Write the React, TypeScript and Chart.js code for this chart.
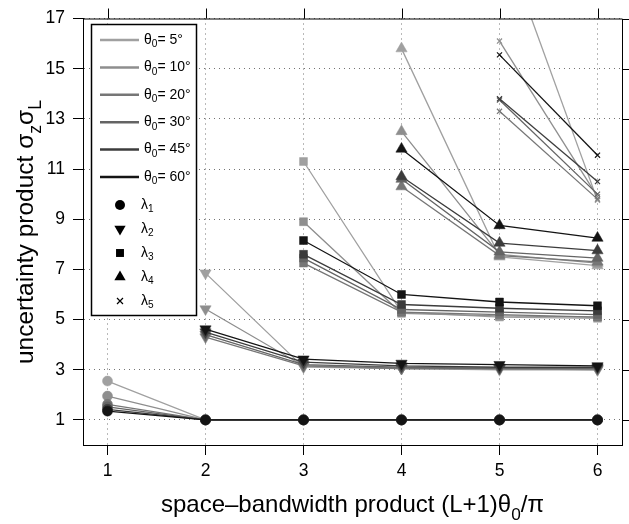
import React, { useEffect, useRef } from "react";
import { Chart, registerables } from "chart.js";

Chart.register(...registerables);

// Beam half-widths and their gray levels (lighter = narrower)
const thetaLabels = ["5°", "10°", "20°", "30°", "45°", "60°"];
const thetaColors = ["#a0a0a0", "#8e8e8e", "#767676", "#646464", "#3c3c3c", "#141414"];

// Space-bandwidth products at which each eigenvalue index starts
const xLambda1 = [1, 2, 3, 4, 5, 6];
const xLambda2 = [2, 3, 4, 5, 6];
const xLambda3 = [3, 4, 5, 6];
const xLambda4 = [4, 5, 6];
const xLambda5 = [5, 6];

// Uncertainty products, one row per beam width (5°, 10°, 20°, 30°, 45°, 60°)
const lambda1 = [
  [2.55, 1.0, 1.0, 1.0, 1.0, 1.0],
  [1.95, 1.0, 1.0, 1.0, 1.0, 1.0],
  [1.62, 1.0, 1.0, 1.0, 1.0, 1.0],
  [1.52, 1.0, 1.0, 1.0, 1.0, 1.0],
  [1.42, 1.0, 1.0, 1.0, 1.0, 1.0],
  [1.35, 1.0, 1.0, 1.0, 1.0, 1.0],
];
const lambda2 = [
  [6.85, 3.1, 3.05, 3.0, 3.0],
  [5.42, 3.15, 3.05, 3.05, 3.0],
  [4.3, 3.15, 3.05, 3.05, 3.05],
  [4.4, 3.2, 3.1, 3.05, 3.05],
  [4.5, 3.3, 3.15, 3.1, 3.1],
  [4.62, 3.42, 3.25, 3.2, 3.15],
];
const lambda3 = [
  [11.3, 5.3, 5.1, 5.05],
  [8.9, 5.25, 5.15, 5.1],
  [7.25, 5.3, 5.2, 5.1],
  [7.45, 5.4, 5.3, 5.2],
  [7.6, 5.6, 5.45, 5.35],
  [8.15, 6.0, 5.7, 5.55],
];
const lambda4 = [
  [15.8, 7.5, 7.15],
  [12.5, 7.6, 7.25],
  [10.3, 7.55, 7.3],
  [10.6, 7.7, 7.45],
  [10.7, 8.05, 7.75],
  [11.8, 8.75, 8.25],
];
const lambda5 = [
  [20.5, 9.75],
  [16.1, 9.9],
  [13.3, 9.8],
  [13.75, 10.0],
  [13.8, 10.5],
  [15.55, 11.55],
];

const xTicks = [1, 2, 3, 4, 5, 6];
const yTicks = [1, 3, 5, 7, 9, 11, 13, 15, 17];

const FONT = "'Liberation Sans', Arial, Helvetica, sans-serif";

type Run = { t: string; sub?: boolean };

// Draw a run of text where some pieces are subscripts; returns total width
function drawRich(
  ctx: CanvasRenderingContext2D,
  runs: Run[],
  x: number,
  y: number,
  size: number,
  measureOnly = false
): number {
  let cx = x;
  for (const r of runs) {
    const s = r.sub ? size * 0.72 : size;
    ctx.font = `${s}px ${FONT}`;
    const w = ctx.measureText(r.t).width;
    if (!measureOnly) ctx.fillText(r.t, cx, y + (r.sub ? size * 0.33 : 0));
    cx += w;
  }
  return cx - x;
}

const markerDefs = [
  { style: "circle", radius: 5, rotation: 0 },
  { style: "triangle", radius: 6.5, rotation: 180 },
  { style: "rect", radius: 5.6, rotation: 0 },
  { style: "triangle", radius: 6.5, rotation: 0 },
  { style: "crossRot", radius: 3.6, rotation: 0 },
];

function drawMarker(
  ctx: CanvasRenderingContext2D,
  style: string,
  r: number,
  rot: number,
  x: number,
  y: number
) {
  ctx.beginPath();
  if (style === "circle") {
    ctx.arc(x, y, r, 0, Math.PI * 2);
    ctx.fill();
  } else if (style === "rect") {
    const s = r * Math.SQRT1_2;
    ctx.fillRect(x - s, y - s, 2 * s, 2 * s);
  } else if (style === "triangle") {
    let rad = (rot * Math.PI) / 180;
    for (let k = 0; k < 3; k++) {
      const px = x + Math.sin(rad) * r;
      const py = y - Math.cos(rad) * r;
      if (k === 0) ctx.moveTo(px, py);
      else ctx.lineTo(px, py);
      rad += (2 * Math.PI) / 3;
    }
    ctx.closePath();
    ctx.fill();
  } else {
    ctx.lineWidth = 1.2;
    ctx.moveTo(x - r, y - r);
    ctx.lineTo(x + r, y + r);
    ctx.moveTo(x + r, y - r);
    ctx.lineTo(x - r, y + r);
    ctx.stroke();
  }
}

const framePlugin = {
  id: "frame",
  afterDraw(chart: any) {
    const { ctx, chartArea: a, scales } = chart;
    const xs = scales.x;
    const ys = scales.y;
    ctx.save();
    // top and right frame with outward ticks
    ctx.strokeStyle = "#000";
    ctx.lineWidth = 1;
    ctx.beginPath();
    ctx.moveTo(a.left, a.top + 0.5);
    ctx.lineTo(a.right + 0.5, a.top + 0.5);
    ctx.lineTo(a.right + 0.5, a.bottom);
    for (const v of xTicks) {
      const px = Math.round(xs.getPixelForValue(v)) + 0.5;
      ctx.moveTo(px, a.top);
      ctx.lineTo(px, a.top - 10);
    }
    for (const v of yTicks) {
      const py = Math.round(ys.getPixelForValue(v)) + 0.5;
      ctx.moveTo(a.right, py);
      ctx.lineTo(a.right + 10, py);
    }
    ctx.stroke();

    // legend box
    const lx = 91, ly = 24, lw = 105, lh = 291;
    ctx.fillStyle = "#fff";
    ctx.fillRect(lx, ly, lw, lh);
    ctx.strokeStyle = "#000";
    ctx.lineWidth = 1.5;
    ctx.strokeRect(lx + 0.5, ly + 0.5, lw, lh);

    ctx.textBaseline = "middle";
    ctx.textAlign = "left";
    thetaLabels.forEach((lab, i) => {
      const yy = 40 + i * 27.4;
      ctx.strokeStyle = thetaColors[i];
      ctx.lineWidth = 2.5;
      ctx.beginPath();
      ctx.moveTo(100, yy);
      ctx.lineTo(139, yy);
      ctx.stroke();
      ctx.fillStyle = "#000";
      drawRich(ctx, [{ t: "θ" }, { t: "0", sub: true }, { t: "= " + lab }], 144, yy, 14);
    });
    markerDefs.forEach((m, i) => {
      const yy = 205 + i * 24;
      ctx.fillStyle = "#000";
      ctx.strokeStyle = "#000";
      ctx.lineWidth = 1;
      const r = m.style === "crossRot" ? 3 : m.radius;
      drawMarker(ctx, m.style, r, m.rotation, 120, yy);
      ctx.fillStyle = "#000";
      drawRich(ctx, [{ t: "λ" }, { t: String(i + 1), sub: true }], 141, yy, 14);
    });

    // axis titles
    ctx.fillStyle = "#000";
    ctx.textBaseline = "alphabetic";
    const xt: Run[] = [
      { t: "space–bandwidth product (L+1)θ" },
      { t: "0", sub: true },
      { t: "/π" },
    ];
    const xw = drawRich(ctx, xt, 0, 0, 24, true);
    drawRich(ctx, xt, (a.left + a.right) / 2 - xw / 2, 512, 24);

    const yt: Run[] = [
      { t: "uncertainty product σ" },
      { t: "z", sub: true },
      { t: "σ" },
      { t: "L", sub: true },
    ];
    const yw = drawRich(ctx, yt, 0, 0, 24.5, true);
    ctx.translate(33, 232);
    ctx.rotate(-Math.PI / 2);
    drawRich(ctx, yt, -yw / 2, 0, 24.5);
    ctx.restore();
  },
};

function buildDatasets() {
  const groups = [
    { xs: xLambda1, vals: lambda1 },
    { xs: xLambda2, vals: lambda2 },
    { xs: xLambda3, vals: lambda3 },
    { xs: xLambda4, vals: lambda4 },
    { xs: xLambda5, vals: lambda5 },
  ];
  const ds: any[] = [];
  // darkest beam first so it ends up drawn on top
  for (let ti = thetaLabels.length - 1; ti >= 0; ti--) {
    const lab = thetaLabels[ti];
    groups.forEach((g, li) => {
      const m = markerDefs[li];
      ds.push({
        label: `θ0=${lab} λ${li + 1}`,
        data: g.xs.map((x, k) => ({ x, y: g.vals[ti][k] })),
        showLine: true,
        borderColor: thetaColors[ti],
        backgroundColor: thetaColors[ti],
        borderWidth: 1.3,
        pointStyle: m.style,
        pointRadius: m.radius,
        pointRotation: m.rotation,
        pointBorderWidth: m.style === "crossRot" ? 1.2 : 0.5,
        pointBorderColor: thetaColors[ti],
        pointBackgroundColor: thetaColors[ti],
      });
    });
  }
  return ds;
}

export default function App() {
  const canvasRef = useRef<HTMLCanvasElement>(null);

  useEffect(() => {
    document.body.style.margin = "0";
    const canvas = canvasRef.current!;
    const chart = new Chart(canvas, {
      type: "scatter",
      data: { datasets: buildDatasets() },
      options: {
        animation: false,
        responsive: false,
        devicePixelRatio: 1,
        layout: { padding: { left: 0, top: 15, right: 5, bottom: 0 } },
        plugins: { legend: { display: false }, tooltip: { enabled: false } },
        scales: {
          x: {
            type: "linear",
            min: 0.75,
            max: 6.25,
            afterBuildTicks: (s: any) => {
              s.ticks = xTicks.map((v) => ({ value: v }));
            },
            afterFit: (s: any) => {
              s.height = 79;
            },
            ticks: {
              color: "#000",
              padding: 6,
              font: { family: FONT, size: 17.5 },
            },
            grid: {
              color: "rgba(0,0,0,0.55)",
              tickColor: "#000",
              tickLength: 10,
              lineWidth: 1,
            },
            border: { display: true, color: "#000", width: 1, dash: [1, 4] },
          },
          y: {
            type: "linear",
            min: 0,
            max: 17,
            afterBuildTicks: (s: any) => {
              s.ticks = yTicks.map((v) => ({ value: v }));
            },
            afterFit: (s: any) => {
              s.width = 83;
            },
            ticks: {
              color: "#000",
              padding: 8,
              font: { family: FONT, size: 17.5 },
            },
            grid: {
              color: "rgba(0,0,0,0.55)",
              tickColor: "#000",
              tickLength: 10,
              lineWidth: 1,
            },
            border: { display: true, color: "#000", width: 1, dash: [1, 4] },
          },
        },
      },
      plugins: [framePlugin],
    });
    return () => chart.destroy();
  }, []);

  return <canvas ref={canvasRef} width={629} height={524} style={{ display: "block" }} />;
}
